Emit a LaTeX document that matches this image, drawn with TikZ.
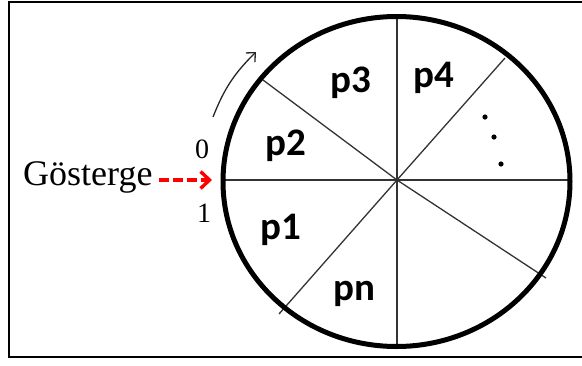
\documentclass[tikz,border=0pt]{standalone}
\usepackage{fontspec}
\setmainfont{Liberation Serif}
\newfontfamily\lblfont{Carlito}
\usetikzlibrary{arrows.meta}
\tikzset{
  spoke/.style={line width=1.3pt,black!80},
  sector/.style={font=\lblfont\bfseries\fontsize{39}{44}\selectfont,anchor=base west,inner sep=0pt},
  digit/.style={font=\fontsize{28}{32}\selectfont,anchor=base west,inner sep=0pt},
}
\begin{document}
\begin{tikzpicture}[x=1pt,y=-1pt,>=stealth]
  \useasboundingbox (0,0) rectangle (582,365);
  % frame
  \draw[line width=2pt] (600,1.5) -- (9,1.5) -- (9,357) -- (600,357);
  % wheel
  \coordinate (c) at (397,180);
  \coordinate (w) at (222,180); \coordinate (e) at (571,180);
  \coordinate (n) at (397,16);  \coordinate (s) at (397,347);
  \coordinate (nw) at (263,80); \coordinate (ne) at (505,58);
  \coordinate (sw) at (279,314); \coordinate (se) at (546,278);
  \draw[spoke] (w) -- (e);
  \draw[spoke] (n) -- (s);
  \draw[spoke] (nw) -- (c) -- (se);
  \draw[spoke] (ne) -- (c) -- (sw);
  \draw[line width=5pt] (396.5,181.5) ellipse (173.5 and 165);
  % labels
  \node[sector] (p3) at (330,92) {p3};
  \node[sector] (p4) at (413,87) {p4};
  \node[sector] (p2) at (265,155) {p2};
  \node[sector] (p1) at (260,239) {p1};
  \node[sector] (pn) at (333,300) {pn};
  \fill (485,117) circle (2.6) (494,137) circle (2.6) (501,164) circle (2.6);
  % pointer
  \node[font=\fontsize{36}{40}\selectfont,anchor=base west,inner sep=0pt] (g) at (23,185) {Gösterge};
  \node[digit] (d0) at (195,158) {0};
  \node[digit] (d1) at (197,222) {1};
  \coordinate (tip) at (212,180);
  \draw[red,line width=3.4pt,dash pattern=on 10pt off 4pt,-{Straight Barb[length=9pt,width=17pt]}] (g.east |- tip) ++(6,0) -- (tip);
  \coordinate (r1) at (213,117); \coordinate (r2) at (256,52);
  \draw[line width=1.3pt,black!85,-{Straight Barb[length=7pt,width=13pt]}] (r1) to[bend left=12] (r2);
\end{tikzpicture}
\end{document}
